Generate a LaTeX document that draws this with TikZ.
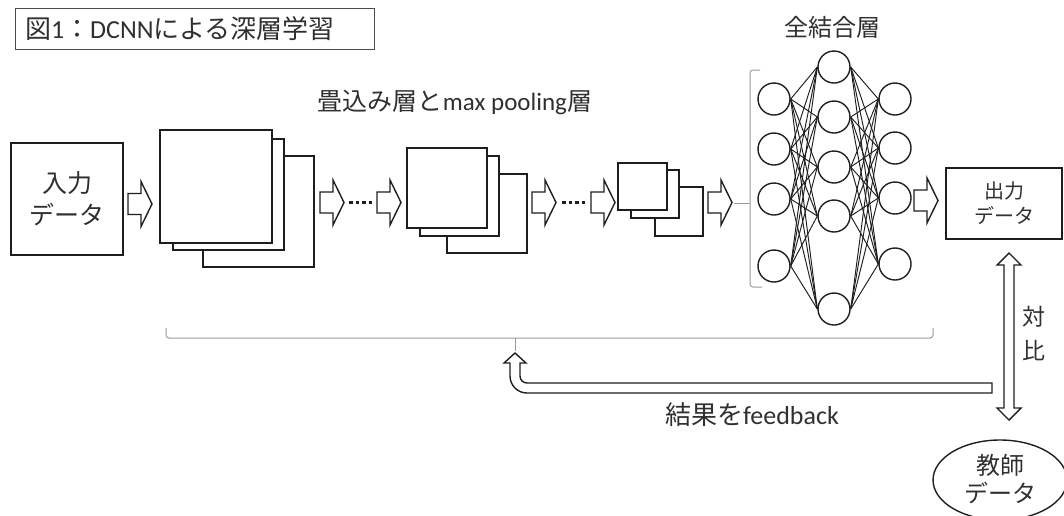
\documentclass[tikz,border=0pt]{standalone}
\usepackage{fontspec}
\setmainfont{Carlito}
\newfontfamily\jp{Noto Sans CJK JP}
\usetikzlibrary{shapes.geometric}
\definecolor{ink}{HTML}{1E1E1E}
\definecolor{txt}{HTML}{303030}
\definecolor{brk}{HTML}{9A9A9A}
\tikzset{
  shp/.style={draw=ink, line width=1.4pt},
  box/.style={shp, fill=white, inner sep=0pt, outer sep=0pt},
  neuron/.style={draw=ink, line width=1.4pt, circle, minimum size=32pt, inner sep=0pt},
  edge/.style={draw=ink, line width=0.95pt},
  brace/.style={draw=brk, line width=1pt},
  dots/.style={draw=ink, line width=3pt, dash pattern=on 3.5pt off 3pt},
  rarr/.pic={\draw[shp, line join=miter] (0,-10.5) -- (13,-10.5) -- (13,-22.5) -- (24,0) -- (13,22.5) -- (13,10.5) -- (0,10.5) -- cycle;},
  lbl/.style={text=txt, inner sep=0pt, align=center}
}
\begin{document}
\begin{tikzpicture}[x=1pt,y=-1pt]
\useasboundingbox (0,0) rectangle (1064,515);
\clip (0,0) rectangle (1064,515);

% title
\node[draw=ink!80, line width=1pt, text=txt, text width=339pt, inner xsep=10pt, inner ysep=0pt, minimum height=41pt, align=left, font=\fontsize{26}{30}\selectfont] (title) at (194.5,28.5) {{\jp 図}1{\jp ：}DCNN{\jp による深層学習}};

% labels
\node[lbl, font=\fontsize{25}{30}\selectfont] (convlbl) at (455,102) {{\jp 畳込み層と}max pooling{\jp 層}};
\node[lbl, font=\jp\fontsize{24}{30}\selectfont] (fclbl) at (832,27) {全結合層};

% input / output
\node[box, minimum width=112pt, minimum height=112pt, text=txt, align=center, font=\jp\fontsize{25}{32}\selectfont] (in) at (67,199) {入力\\データ};
\node[box, minimum width=116pt, minimum height=71pt, text=txt, align=center, font=\jp\fontsize{20}{25}\selectfont] (out) at (1004,203.5) {出力\\データ};

% stack 1
\node[box, minimum width=111pt, minimum height=111pt] (s1c) at (258.5,211.5) {};
\node[box, minimum width=111pt, minimum height=111pt] (s1b) at (228.5,194.5) {};
\node[box, minimum width=112pt, minimum height=113pt] (s1a) at (216,186.5) {};
% stack 2
\node[box, minimum width=80pt, minimum height=79pt] (s2c) at (487,213.5) {};
\node[box, minimum width=79pt, minimum height=80pt] (s2b) at (459.5,196) {};
\node[box, minimum width=80pt, minimum height=80pt] (s2a) at (447,188) {};
% stack 3
\node[box, minimum width=48pt, minimum height=49pt] (s3c) at (679,211.5) {};
\node[box, minimum width=48pt, minimum height=48pt] (s3b) at (655,194) {};
\node[box, minimum width=49pt, minimum height=47pt] (s3a) at (642.5,186.5) {};

% block arrows
\pic at (128,204) {rarr};
\pic at (320,202.5) {rarr};
\pic at (377,202.5) {rarr};
\pic at (532,202.5) {rarr};
\pic at (591,202.5) {rarr};
\pic at (708,202.5) {rarr};
\pic at (914,200.5) {rarr};
\coordinate (d1a) at (349,202.5); \coordinate (d1b) at (375,202.5);
\coordinate (d2a) at (562,202.5); \coordinate (d2b) at (588,202.5);
\draw[dots] (d1a) -- (d1b);
\draw[dots] (d2a) -- (d2b);

% neural net
\foreach \i/\y in {1/99,2/149,3/199,4/266} \node[neuron] (a\i) at (774,\y) {};
\foreach \i/\y in {1/67,2/117,3/167,4/216,5/309} \node[neuron] (b\i) at (834,\y) {};
\foreach \i/\y in {1/99,2/148,3/198,4/264} \node[neuron] (c\i) at (895,\y) {};
\foreach \i in {1,...,4} \foreach \j in {1,...,5} \draw[edge] (a\i.east) -- (b\j.west);
\foreach \i in {1,...,4} \foreach \j in {1,...,5} \draw[edge] (b\j.east) -- (c\i.west);

% braces
\draw[brace, rounded corners=3pt] (760,70) -- (750,70) -- (750,287) -- (762,287);
\draw[brace] (750,203) -- (734,203);
\draw[brace, rounded corners=3pt] (166,328) -- (166,338) -- (933,338) -- (933,328);
\coordinate (bmid) at (515,338);
\coordinate (bfoot) at (515,351);
\draw[brace] (bmid) -- (bfoot);

% feedback arrow
\draw[shp, line join=miter] (992,393) -- (527,393) arc[start angle=90, end angle=180, radius=17] -- (510,363) -- (504,363) -- (515,353) -- (526,363) -- (520,363) -- (520,376) arc[start angle=180, end angle=90, radius=7] -- (992,383) -- cycle;
\node[lbl, font=\fontsize{26}{30}\selectfont] (fb) at (752,415) {{\jp 結果を}feedback};

% compare arrow
\draw[shp, line join=miter] (1004,265) -- (997,265) -- (1009,253) -- (1021,265) -- (1014,265) -- (1014,408) -- (1021,408) -- (1009,420) -- (997,408) -- (1004,408) -- cycle;
\node[lbl, font=\jp\fontsize{23}{34}\selectfont] (cmp) at (1034,333) {対\\比};

% teacher
\node[draw=ink, line width=1.4pt, ellipse, minimum width=134pt, minimum height=80pt, inner sep=0pt, text=txt, align=center, font=\jp\fontsize{24}{29}\selectfont] (teach) at (1000,480) {\raisebox{3pt}{\shortstack{教師\\[3pt]データ}}};
\end{tikzpicture}
\end{document}
